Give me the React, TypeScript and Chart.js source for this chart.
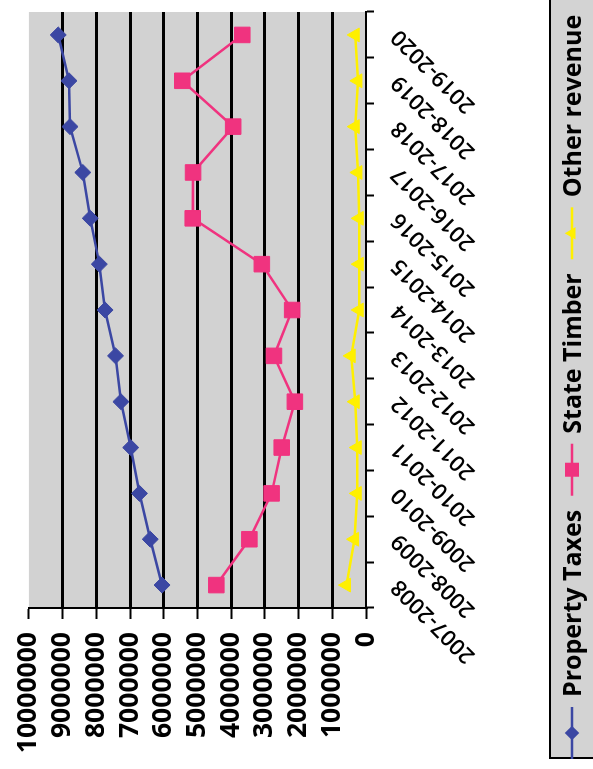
import React, { useEffect, useRef } from 'react';
import { Chart, registerables } from 'chart.js';

Chart.register(...registerables);

const categories = [
  '2007-2008', '2008-2009', '2009-2010', '2010-2011', '2011-2012', '2012-2013', '2013-2014',
  '2014-2015', '2015-2016', '2016-2017', '2017-2018', '2018-2019', '2019-2020',
];
const propertyTaxes = [6050000, 6400000, 6720000, 6980000, 7270000, 7430000, 7740000, 7910000, 8180000, 8400000, 8780000, 8810000, 9130000];
const stateTimber = [4440000, 3460000, 2800000, 2500000, 2110000, 2730000, 2190000, 3090000, 5140000, 5130000, 3940000, 5450000, 3670000];
const otherRevenue = [580000, 340000, 260000, 260000, 320000, 440000, 200000, 200000, 200000, 240000, 320000, 240000, 320000];
const seriesNames = ['Property Taxes', 'State Timber', 'Other revenue'];
const valueMin = 0;
const valueMax = 10000000;
const valueStep = 1000000;

const BLUE = '#3b47a3';
const PINK = '#f0337f';
const YELLOW = '#fff000';
const PLOT_GRAY = '#d2d2d2';
const LEGEND_GRAY = '#d3d3d3';
const FONT = "'Open Sans', 'DejaVu Sans', sans-serif";

const seriesColors = [BLUE, PINK, YELLOW];
const seriesStyles = ['rectRot', 'rect', 'triangle'];
const seriesRadius = [8, 11, 8];

function drawMarker(ctx: CanvasRenderingContext2D, style: string, x: number, y: number, r: number, color: string) {
  ctx.beginPath();
  if (style === 'rectRot') {
    ctx.moveTo(x - r, y);
    ctx.lineTo(x, y - r);
    ctx.lineTo(x + r, y);
    ctx.lineTo(x, y + r);
  } else if (style === 'rect') {
    const s = Math.SQRT1_2 * r;
    ctx.rect(x - s, y - s, 2 * s, 2 * s);
  } else {
    for (let k = 0; k < 3; k++) {
      const a = (k * 2 * Math.PI) / 3;
      const px = x + Math.sin(a) * r;
      const py = y - Math.cos(a) * r;
      if (k === 0) ctx.moveTo(px, py);
      else ctx.lineTo(px, py);
    }
  }
  ctx.closePath();
  ctx.fillStyle = color;
  ctx.fill();
}

const plotBgPlugin = {
  id: 'plotBg',
  beforeDraw(chart: any) {
    const { ctx, chartArea } = chart;
    ctx.save();
    ctx.fillStyle = PLOT_GRAY;
    ctx.fillRect(chartArea.left, chartArea.top, chartArea.right - chartArea.left, chartArea.bottom - chartArea.top);
    ctx.restore();
  },
};

const legendPlugin = {
  id: 'boxLegend',
  afterDraw(chart: any) {
    const ctx: CanvasRenderingContext2D = chart.ctx;
    const boxLeft = 11;
    const boxTop = 550;
    ctx.save();
    ctx.fillStyle = LEGEND_GRAY;
    ctx.fillRect(boxLeft, boxTop, 900, 200);
    ctx.strokeStyle = '#000';
    ctx.lineWidth = 2;
    ctx.strokeRect(boxLeft, boxTop, 900, 200);
    const midY = 572;
    ctx.font = `bold 25px ${FONT}`;
    ctx.textBaseline = 'alphabetic';
    ctx.textAlign = 'left';
    let markerX = 36;
    seriesNames.forEach((name, i) => {
      ctx.strokeStyle = seriesColors[i];
      ctx.lineWidth = 2.5;
      ctx.beginPath();
      ctx.moveTo(markerX - 26, midY);
      ctx.lineTo(markerX + 26, midY);
      ctx.stroke();
      drawMarker(ctx, seriesStyles[i], markerX, midY, seriesRadius[i] * 0.9, seriesColors[i]);
      const textX = markerX + 36;
      ctx.fillStyle = '#000';
      ctx.fillText(name, textX, midY + 9);
      const w = ctx.measureText(name).width;
      markerX = textX + w + 40;
    });
    ctx.restore();
  },
};

export default function App() {
  const canvasRef = useRef<HTMLCanvasElement | null>(null);

  useEffect(() => {
    const canvas = canvasRef.current;
    if (!canvas) return;
    const seriesData = [propertyTaxes, stateTimber, otherRevenue];
    const chart = new Chart(canvas, {
      type: 'line',
      data: {
        labels: categories,
        datasets: seriesNames.map((name, i) => ({
          label: name,
          data: seriesData[i],
          borderColor: seriesColors[i],
          backgroundColor: seriesColors[i],
          borderWidth: 2.5,
          pointStyle: seriesStyles[i] as any,
          pointRadius: seriesRadius[i],
          pointBorderWidth: 1,
          pointBackgroundColor: seriesColors[i],
          pointBorderColor: seriesColors[i],
          tension: 0,
          fill: false,
        })),
      },
      options: {
        animation: false,
        responsive: false,
        devicePixelRatio: 1,
        layout: { padding: { top: 23, right: 12, left: 0, bottom: 0 } },
        plugins: {
          legend: { display: false },
          tooltip: { enabled: false },
        },
        scales: {
          x: {
            type: 'category',
            offset: true,
            grid: {
              offset: true,
              drawOnChartArea: false,
              drawTicks: true,
              tickLength: 8,
              tickWidth: 2,
              tickColor: '#000',
            },
            border: { display: true, color: '#000', width: 2 },
            ticks: {
              autoSkip: false,
              maxRotation: 45,
              minRotation: 45,
              padding: 12,
              labelOffset: 2,
              color: '#000',
              font: { family: FONT, size: 22, weight: '600' },
            },
            afterFit: (s: any) => {
              s.height = 227;
            },
          },
          y: {
            min: valueMin,
            max: valueMax,
            ticks: {
              stepSize: valueStep,
              autoSkip: false,
              padding: 13,
              color: '#000',
              font: { family: FONT, size: 26.5, weight: 'bold' },
              callback: (v: any) => String(v),
            },
            grid: {
              color: (c: any) =>
                c.tick && c.tick.value > valueMin && c.tick.value < valueMax ? '#000' : 'rgba(0,0,0,0)',
              lineWidth: 3,
              drawTicks: true,
              tickLength: 11,
              tickWidth: 2,
              tickColor: '#000',
            },
            border: { display: true, color: '#000', width: 2 },
            afterFit: (s: any) => {
              s.width = 161;
            },
          },
        },
      } as any,
      plugins: [plotBgPlugin, legendPlugin],
    });
    return () => chart.destroy();
  }, []);

  return (
    <div
      style={{
        position: 'fixed',
        left: 0,
        top: 0,
        width: 769,
        height: 593,
        background: '#fff',
        transformOrigin: '0 0',
        transform: 'translate(0px, 769px) rotate(-90deg)',
      }}
    >
      <canvas ref={canvasRef} width={769} height={593} style={{ display: 'block' }} />
    </div>
  );
}
